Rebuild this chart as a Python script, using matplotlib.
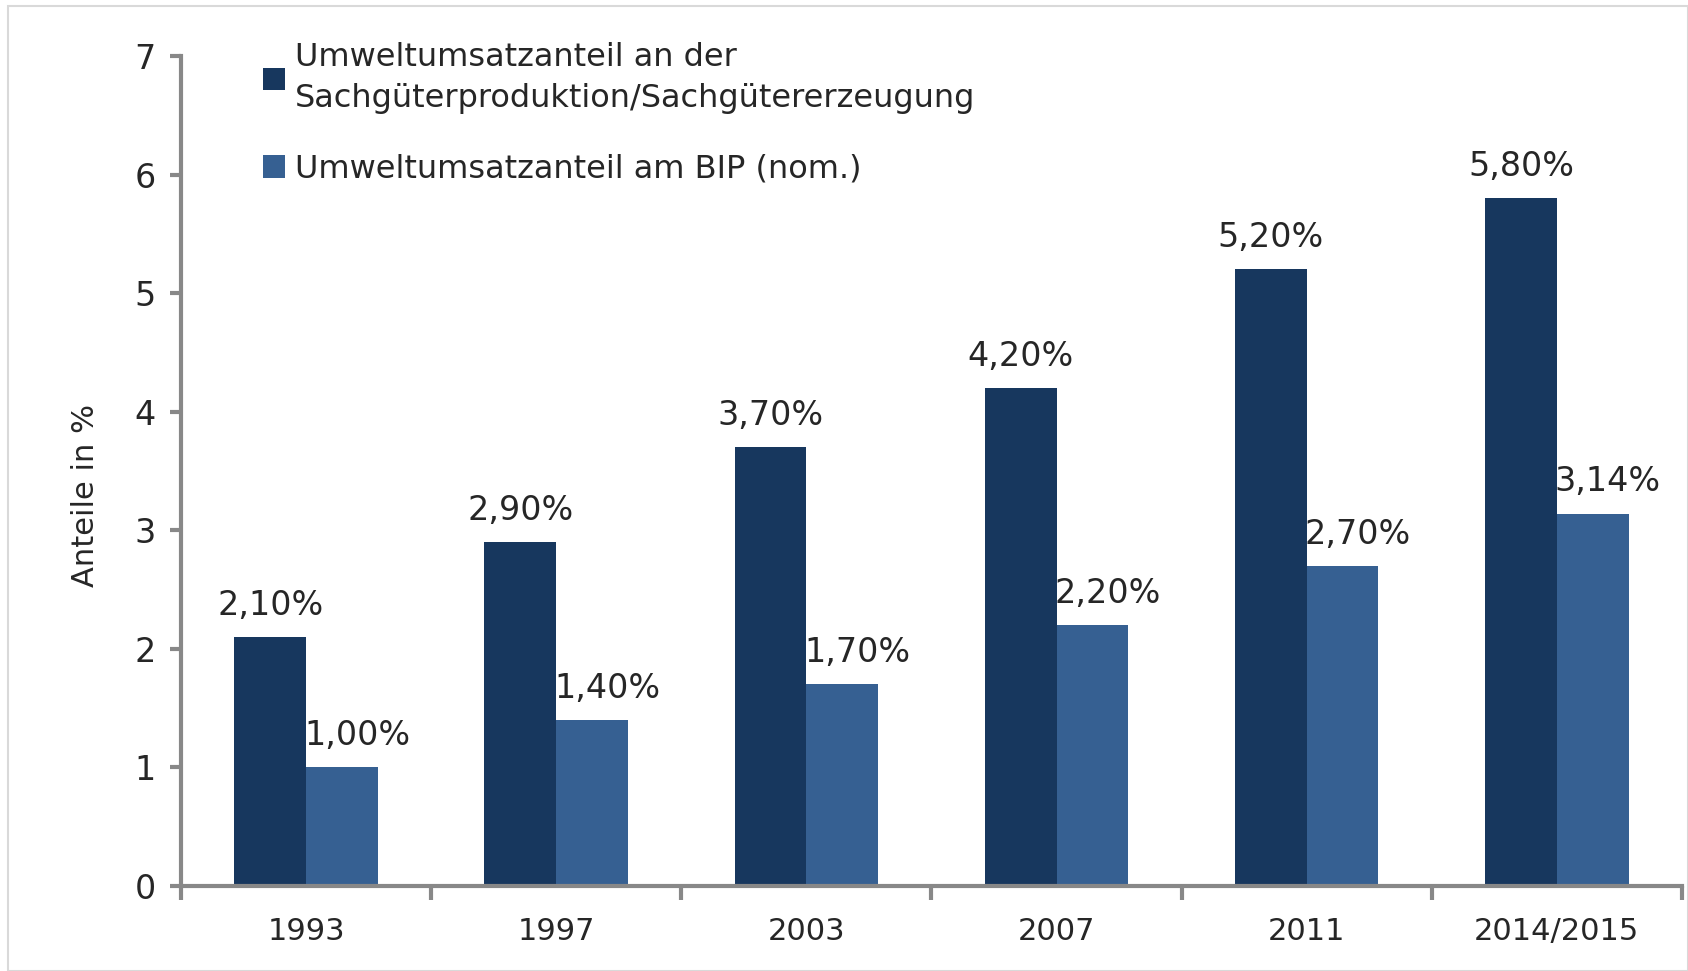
import numpy as np
import matplotlib
matplotlib.use("Agg")
from matplotlib import pyplot as plt
from matplotlib.patches import Rectangle

# Data
years = ["1993", "1997", "2003", "2007", "2011", "2014/2015"]
sachgueter = [2.10, 2.90, 3.70, 4.20, 5.20, 5.80]
bip = [1.00, 1.40, 1.70, 2.20, 2.70, 3.14]
label_sach = "Umweltumsatzanteil an der\nSachgüterproduktion/Sachgütererzeugung"
label_bip = "Umweltumsatzanteil am BIP (nom.)"

dark = "#17375E"
light = "#366092"
grey = "#888888"
txt = "#262626"

plt.rcParams['font.family'] = ['DejaVu Sans']

fig = plt.figure(figsize=(16.88, 9.71), dpi=100)
ax = fig.add_axes([0.1072, 0.0875, 0.8892, 0.8548])

x = np.arange(len(years))
w = 0.287
ax.bar(x - w / 2, sachgueter, w, color=dark, label=label_sach)
ax.bar(x + w / 2, bip, w, color=light, label=label_bip)

def fmt(v):
    return ("%.2f%%" % v).replace(".", ",")

# value labels above the bars
for xi, v in zip(x, sachgueter):
    ax.annotate(fmt(v), (xi - w / 2, v), xytext=(0, 11), textcoords="offset points",
                ha="center", va="bottom", fontsize=24, color=txt)
for xi, v in zip(x, bip):
    ax.annotate(fmt(v), (xi + w / 2 + 0.06, v), xytext=(0, 11), textcoords="offset points",
                ha="center", va="bottom", fontsize=24, color=txt)

ax.set_xlim(-0.5, len(years) - 0.5)
ax.set_ylim(0, 7)
ax.set_yticks(range(8))
ax.set_xticks(x)
ax.set_xticklabels(years)
ax.set_xticks(np.arange(-0.5, len(years)), minor=True)
ax.tick_params(axis="x", which="major", length=0, pad=22, labelsize=22, labelcolor=txt)
ax.tick_params(axis="x", which="minor", length=10, width=3, color=grey, direction="out")
ax.tick_params(axis="y", length=8, width=3, color=grey, labelsize=24, labelcolor=txt, pad=10)

for s in ["top", "right"]:
    ax.spines[s].set_visible(False)
for s in ["left", "bottom"]:
    ax.spines[s].set_color(grey)
    ax.spines[s].set_linewidth(3)

ax.set_ylabel("Anteile in %", fontsize=22, color=txt)
ax.yaxis.set_label_coords(-0.054, 0.47)

leg = ax.legend(loc="upper left", bbox_to_anchor=(0.046, 1.032), frameon=False,
                fontsize=23, handlelength=0.7, handleheight=0.7, handletextpad=0.3,
                labelspacing=1.25, borderaxespad=0)
for t in leg.get_texts():
    t.set_color(txt)
    t.set_linespacing(1.4)

# light frame around the figure
fig.patches.append(Rectangle((0.005, 0.0), 0.995, 0.994, transform=fig.transFigure,
                             fill=False, edgecolor="#d9d9d9", linewidth=1.5))

fig.savefig("out.png", dpi=100)
